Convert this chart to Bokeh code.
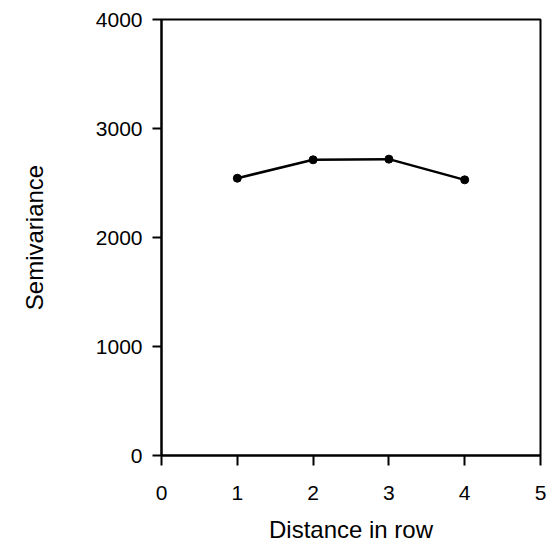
from bokeh.plotting import figure
from bokeh.models import Range1d, FixedTicker
from bokeh.embed import file_html
from bokeh.resources import INLINE

distance = [1, 2, 3, 4]
semivariance = [2544, 2713, 2719, 2529]
x_ticks = [0, 1, 2, 3, 4, 5]
y_ticks = [0, 1000, 2000, 3000, 4000]

p = figure(width=560, height=547, output_backend="svg", toolbar_location=None,
           x_range=Range1d(0, 5), y_range=Range1d(0, 4000),
           min_border_left=161, min_border_right=20, min_border_top=19, min_border_bottom=92)

p.line(distance, semivariance, line_color="black", line_width=2.5)
p.scatter(distance, semivariance, size=8, color="black")

p.xgrid.visible = False
p.ygrid.visible = False
p.outline_line_color = "black"
p.outline_line_width = 2
p.outline_line_alpha = 1
p.background_fill_color = "white"
p.border_fill_color = "white"

font = "Liberation Sans"
for ax in (p.xaxis[0], p.yaxis[0]):
    ax.axis_line_width = 2
    ax.axis_line_color = "black"
    ax.major_tick_line_width = 2
    ax.major_tick_line_color = "black"
    ax.major_tick_in = 0
    ax.minor_tick_line_color = None
    ax.major_label_text_font = font
    ax.major_label_text_font_size = "21px"
    ax.major_label_text_color = "black"
    ax.axis_label_text_font = font
    ax.axis_label_text_font_size = "24px"
    ax.axis_label_text_font_style = "normal"
    ax.axis_label_text_color = "black"

p.xaxis.ticker = FixedTicker(ticks=x_ticks)
p.yaxis.ticker = FixedTicker(ticks=y_ticks)
p.xaxis.major_tick_out = 10
p.yaxis.major_tick_out = 9
p.xaxis.major_label_standoff = 20
p.yaxis.major_label_standoff = 10
p.xaxis.axis_label = "Distance in row"
p.yaxis.axis_label = "Semivariance"
p.xaxis.axis_label_standoff = 13
p.yaxis.axis_label_standoff = 45

open("out.html", "w").write(file_html(p, INLINE))
